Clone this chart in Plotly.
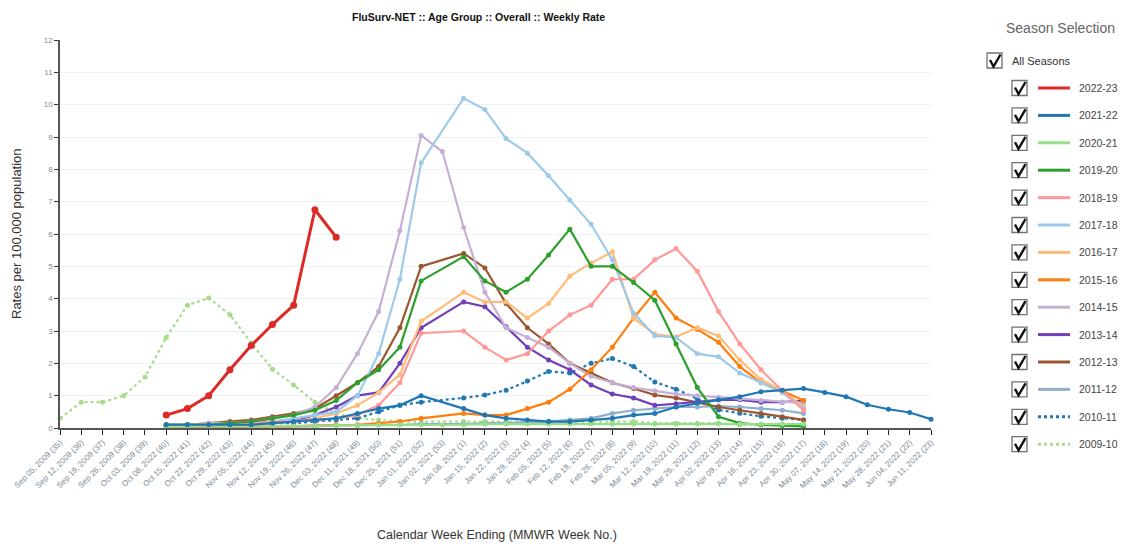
import plotly.graph_objects as go

N = None

# MMWR week numbers along the x axis (week 53 only exists in some seasons)
weeks = list(range(35, 54)) + list(range(1, 24))

# week-ending dates shown for each week
week_dates = [
    "Sep 05, 2009", "Sep 12, 2009", "Sep 19, 2009", "Sep 26, 2009", "Oct 03, 2009",
    "Oct 08, 2022", "Oct 15, 2022", "Oct 22, 2022", "Oct 29, 2022", "Nov 05, 2022",
    "Nov 12, 2022", "Nov 19, 2022", "Nov 26, 2022", "Dec 03, 2022",
    "Dec 11, 2021", "Dec 18, 2021", "Dec 25, 2021", "Jan 01, 2022", "Jan 02, 2021",
    "Jan 08, 2022", "Jan 15, 2022", "Jan 22, 2022", "Jan 29, 2022", "Feb 05, 2022",
    "Feb 12, 2022", "Feb 19, 2022", "Feb 26, 2022", "Mar 05, 2022", "Mar 12, 2022",
    "Mar 19, 2022", "Mar 26, 2022", "Apr 02, 2022", "Apr 09, 2022", "Apr 16, 2022",
    "Apr 23, 2022", "Apr 30, 2022", "May 07, 2022", "May 14, 2022", "May 21, 2022",
    "May 28, 2022", "Jun 04, 2022", "Jun 11, 2022",
]
week_labels = [f"{d} ({w})" for d, w in zip(week_dates, weeks)]

# weekly hospitalization rate per 100,000, one entry per x-axis week
rate_2022_23 = [N]*5 + [0.4, 0.6, 1.0, 1.8, 2.55, 3.2, 3.8, 6.75, 5.9] + [N]*28
rate_2021_22 = [N]*5 + [0.1, 0.1, 0.1, 0.1, 0.1, 0.15, 0.2, 0.25, 0.3, 0.45, 0.6, 0.7, 1.0] + [N] + \
    [0.6, 0.4, 0.3, 0.25, 0.2, 0.2, 0.25, 0.3, 0.4, 0.45, 0.65, 0.77, 0.87, 0.97, 1.12, 1.17, 1.22,
     1.1, 0.97, 0.72, 0.58, 0.48, 0.27]
rate_2020_21 = [N]*5 + [0.05, 0.05, 0.05, 0.05, 0.05, 0.06, 0.06, 0.07, 0.08, 0.08, 0.1, 0.1, 0.1] + [0.1] + \
    [0.1, 0.12, 0.12, 0.12, 0.12, 0.12, 0.12, 0.12, 0.12, 0.12, 0.12, 0.12, 0.12, 0.12, 0.12, 0.12, 0.12] + [N]*6
rate_2019_20 = [N]*5 + [0.1, 0.1, 0.1, 0.15, 0.2, 0.3, 0.4, 0.55, 0.85, 1.4, 1.8, 2.5, 4.55] + [N] + \
    [5.3, 4.55, 4.2, 4.6, 5.35, 6.15, 5.0, 5.0, 4.5, 3.95, 2.6, 1.25, 0.35, 0.15, 0.1, 0.08, 0.05] + [N]*6
rate_2018_19 = [N]*5 + [0.1, 0.1, 0.1, 0.1, 0.15, 0.2, 0.2, 0.25, 0.3, 0.4, 0.7, 1.4, 2.93] + [N] + \
    [3.0, 2.5, 2.1, 2.3, 3.0, 3.5, 3.8, 4.6, 4.6, 5.2, 5.55, 4.85, 3.6, 2.6, 1.8, 1.15, 0.55] + [N]*6
rate_2017_18 = [N]*5 + [0.1, 0.1, 0.1, 0.15, 0.2, 0.2, 0.3, 0.4, 0.5, 1.0, 2.3, 4.6, 8.2] + [N] + \
    [10.2, 9.85, 8.95, 8.5, 7.8, 7.05, 6.3, 5.2, 3.55, 2.85, 2.8, 2.3, 2.2, 1.7, 1.4, 1.1, 0.6] + [N]*6
rate_2016_17 = [N]*5 + [0.05, 0.05, 0.1, 0.1, 0.1, 0.15, 0.2, 0.3, 0.45, 0.7, 1.1, 1.65, 3.3] + [N] + \
    [4.2, 3.9, 3.9, 3.4, 3.85, 4.7, 5.1, 5.45, 3.4, 2.9, 2.82, 3.1, 2.85, 2.1, 1.5, 1.15, 0.65] + [N]*6
rate_2015_16 = [N]*5 + [0.05, 0.05, 0.05, 0.05, 0.05, 0.05, 0.05, 0.08, 0.1, 0.1, 0.15, 0.2, 0.3] + [N] + \
    [0.45, 0.4, 0.4, 0.6, 0.8, 1.2, 1.8, 2.5, 3.4, 4.2, 3.4, 3.05, 2.65, 1.9, 1.4, 1.15, 0.85] + [N]*6
rate_2014_15 = [N]*5 + [0.1, 0.1, 0.15, 0.15, 0.2, 0.3, 0.4, 0.65, 1.25, 2.3, 3.6, 6.1, 9.05] + [8.55] + \
    [6.2, 4.2, 3.1, 2.8, 2.5, 2.0, 1.6, 1.4, 1.25, 1.15, 1.05, 1.0, 0.95, 0.9, 0.85, 0.8, 0.77] + [N]*6
rate_2013_14 = [N]*5 + [0.05, 0.05, 0.1, 0.1, 0.1, 0.15, 0.2, 0.4, 0.65, 1.0, 1.1, 2.0, 3.1] + [N] + \
    [3.9, 3.75, 3.13, 2.5, 2.1, 1.8, 1.33, 1.05, 0.93, 0.7, 0.75, 0.8, 0.87, 0.87, 0.8, 0.8, 0.85] + [N]*6
rate_2012_13 = [N]*5 + [0.1, 0.1, 0.15, 0.2, 0.25, 0.35, 0.45, 0.6, 1.0, 1.4, 1.9, 3.1, 5.0] + [N] + \
    [5.4, 4.95, 3.85, 3.1, 2.6, 2.0, 1.7, 1.4, 1.22, 1.02, 0.93, 0.78, 0.65, 0.55, 0.45, 0.35, 0.25] + [N]*6
rate_2011_12 = [N]*5 + [0.03, 0.03, 0.03, 0.05, 0.05, 0.05, 0.05, 0.05, 0.08, 0.08, 0.1, 0.1, 0.12] + [N] + \
    [0.12, 0.15, 0.15, 0.18, 0.2, 0.25, 0.3, 0.45, 0.55, 0.6, 0.65, 0.65, 0.68, 0.65, 0.6, 0.55, 0.45] + [N]*6
rate_2010_11 = [N]*5 + [0.1, 0.1, 0.1, 0.1, 0.1, 0.15, 0.15, 0.2, 0.25, 0.3, 0.5, 0.7, 0.8] + [N] + \
    [0.93, 1.02, 1.17, 1.45, 1.75, 1.7, 2.0, 2.15, 1.9, 1.42, 1.2, 0.9, 0.56, 0.46, 0.36, 0.3, 0.25] + [N]*6
rate_2009_10 = [0.3, 0.8, 0.8, 1.0, 1.58] + [2.8, 3.8, 4.02, 3.5, 2.63, 1.82, 1.33, 0.8, 0.45, 0.3, 0.25, 0.2, 0.2] + [N] + \
    [0.2, 0.2, 0.2, 0.2, 0.2, 0.2, 0.2, 0.2, 0.2, 0.15, 0.15, 0.15, 0.15, 0.1, 0.1, 0.1, 0.1] + [N]*6

seasons = ["2022-23", "2021-22", "2020-21", "2019-20", "2018-19", "2017-18", "2016-17",
           "2015-16", "2014-15", "2013-14", "2012-13", "2011-12", "2010-11", "2009-10"]
season_rates = [rate_2022_23, rate_2021_22, rate_2020_21, rate_2019_20, rate_2018_19, rate_2017_18,
                rate_2016_17, rate_2015_16, rate_2014_15, rate_2013_14, rate_2012_13, rate_2011_12,
                rate_2010_11, rate_2009_10]
season_colors = ["#dc2a24", "#1f77b4", "#98df8a", "#2ca02c", "#ff9896", "#9ecae9", "#ffbb78",
                 "#ff7f0e", "#c5b0d5", "#7040b8", "#9c5530", "#8fb0cc", "#1f77b4", "#a6dc8a"]
season_dash = ["solid"] * 12 + ["dot", "dot"]

fig = go.Figure()

# oldest season drawn first so the current season sits on top
for name, rates, color, dash in reversed(list(zip(seasons, season_rates, season_colors, season_dash))):
    current = name == seasons[0]
    fig.add_trace(go.Scatter(
        x=week_labels, y=rates, name=name, mode="lines+markers",
        connectgaps=True, cliponaxis=False,
        line=dict(color=color, width=3 if current else 2.2, dash=dash),
        marker=dict(color=color, size=7 if current else 5),
        showlegend=False,
    ))

# plot-area geometry in pixels, used to place the side panel
L, R, T, B = 60, 931, 40, 428
W, H = 1125, 544


def px(x, y):
    return (x - L) / (R - L), (B - y) / (B - T)


shapes = []
annotations = []


def checkbox(x0, y0, size=15):
    a = px(x0, y0)
    b = px(x0 + size, y0 + size)
    shapes.append(dict(type="rect", xref="paper", yref="paper", x0=a[0], y0=b[1], x1=b[0], y1=a[1],
                       line=dict(color="#6d7378", width=1.3), fillcolor="white"))
    pts = [px(x0 + 3, y0 + 7), px(x0 + 6.5, y0 + 13.5), px(x0 + 13.5, y0 + 1.5)]
    path = "M {} {} L {} {} L {} {}".format(pts[0][0], pts[0][1], pts[1][0], pts[1][1], pts[2][0], pts[2][1])
    shapes.append(dict(type="path", xref="paper", yref="paper", path=path,
                       line=dict(color="#111111", width=2.4)))


# side panel: season selection
tx, ty = px(1060, 28)
annotations.append(dict(x=tx, y=ty, xref="paper", yref="paper", text="Season Selection",
                        showarrow=False, xanchor="center", yanchor="middle",
                        font=dict(size=14, color="#666666")))
checkbox(987, 53)
ax, ay = px(1010, 61)
annotations.append(dict(x=ax, y=ay, xref="paper", yref="paper", text="All Seasons",
                        showarrow=False, xanchor="left", yanchor="middle",
                        font=dict(size=11, color="#333333")))

for k, (name, color, dash) in enumerate(zip(seasons, season_colors, season_dash)):
    yc = 88 + k * 27.4
    checkbox(1012, yc - 7.5)
    a = px(1038, yc)
    b = px(1070, yc)
    shapes.append(dict(type="line", xref="paper", yref="paper", x0=a[0], y0=a[1], x1=b[0], y1=b[1],
                       line=dict(color=color, width=3, dash=dash)))
    lx, ly = px(1077, yc)
    annotations.append(dict(x=lx, y=ly, xref="paper", yref="paper", text=name,
                            showarrow=False, xanchor="left", yanchor="middle",
                            font=dict(size=10.5, color="#444444")))

# chart title and axis titles
tx, ty = px(478, 17)
annotations.append(dict(x=tx, y=ty, xref="paper", yref="paper",
                        text="<b>FluSurv-NET :: Age Group :: Overall :: Weekly Rate</b>",
                        showarrow=False, xanchor="center", yanchor="middle",
                        font=dict(size=10.5, color="#111111")))
tx, ty = px(16, 234)
annotations.append(dict(x=tx, y=ty, xref="paper", yref="paper", text="Rates per 100,000 population",
                        showarrow=False, textangle=-90, xanchor="center", yanchor="middle",
                        font=dict(size=13, color="#333333")))
tx, ty = px(497, 535)
annotations.append(dict(x=tx, y=ty, xref="paper", yref="paper",
                        text="Calendar Week Ending (MMWR Week No.)",
                        showarrow=False, xanchor="center", yanchor="middle",
                        font=dict(size=12.5, color="#333333")))

fig.update_layout(
    width=W, height=H, autosize=False,
    margin=dict(l=L, r=W - R, t=T, b=H - B, pad=0),
    paper_bgcolor="white", plot_bgcolor="white",
    font=dict(family="Liberation Sans, Arial, sans-serif"),
    shapes=shapes, annotations=annotations,
    showlegend=False,
)
fig.update_xaxes(
    type="category", categoryorder="array", categoryarray=week_labels,
    range=[0, len(week_labels) - 1], tickangle=-45,
    tickfont=dict(size=8, color="#7d8a96"),
    showline=True, linecolor="#555555", linewidth=1.5,
    ticks="outside", ticklen=5, tickcolor="#222222",
    showgrid=False, zeroline=False, automargin=False,
)
fig.update_yaxes(
    range=[0, 12], dtick=1, tickfont=dict(size=8, color="#7d8a96"),
    showline=True, linecolor="#555555", linewidth=1.5,
    ticks="outside", ticklen=4, tickcolor="#333333",
    showgrid=True, gridcolor="#eef2f6", gridwidth=1, zeroline=False, automargin=False,
)

fig.write_html("out.html")
